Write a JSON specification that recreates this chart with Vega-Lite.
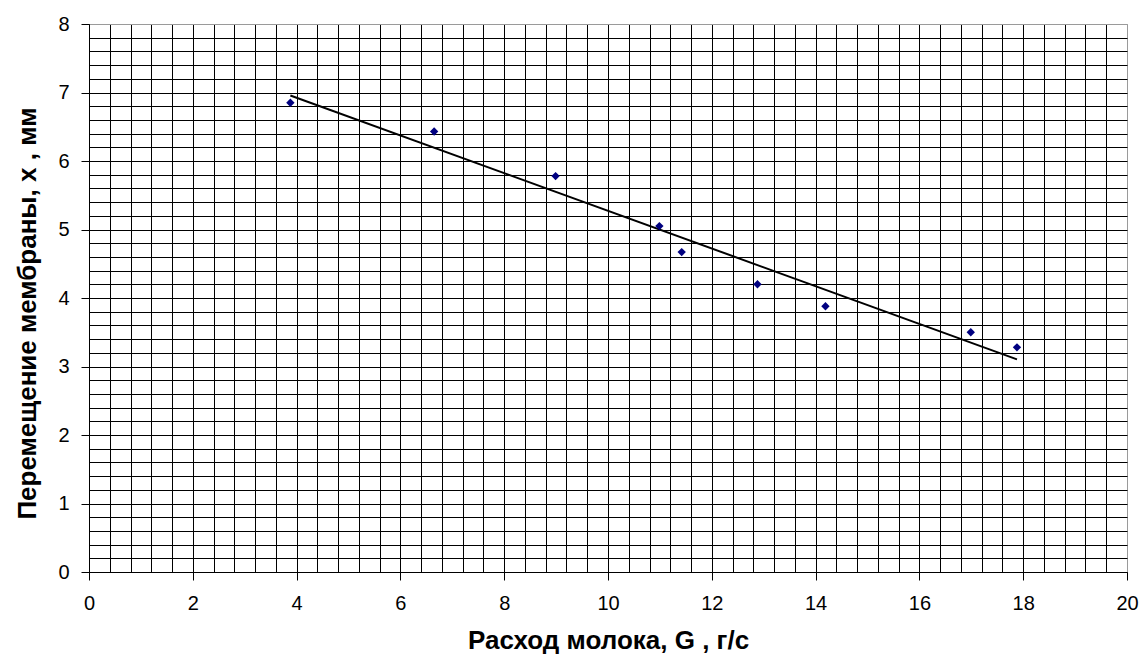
{
  "$schema": "https://vega.github.io/schema/vega-lite/v6.json",
  "width": 1038,
  "height": 548,
  "autosize": {"type": "none"},
  "padding": {"left": 89, "top": 24, "right": 13, "bottom": 87},
  "background": "white",
  "config": {
    "view": {"stroke": "#9a9a9a", "strokeWidth": 1},
    "font": "Liberation Sans"
  },
  "data": {
    "values": [
      {"G": 3.88, "x": 6.85},
      {"G": 6.65, "x": 6.43},
      {"G": 8.99, "x": 5.78},
      {"G": 10.99, "x": 5.05},
      {"G": 11.42, "x": 4.67},
      {"G": 12.88, "x": 4.2},
      {"G": 14.19, "x": 3.88},
      {"G": 16.99, "x": 3.5},
      {"G": 17.88, "x": 3.28}
    ]
  },
  "encoding": {
    "x": {
      "field": "G",
      "type": "quantitative",
      "scale": {"domain": [0, 20], "nice": false, "zero": false},
      "axis": {
        "title": "Расход молока, G , г/с",
        "titleFont": "Liberation Sans",
        "titleFontSize": 26,
        "titleFontWeight": "bold",
        "titleColor": "#000",
        "titlePadding": 14,
        "values": [0,0.4,0.8,1.2,1.6,2,2.4,2.8,3.2,3.6,4,4.4,4.8,5.2,5.6,6,6.4,6.8,7.2,7.6,8,8.4,8.8,9.2,9.6,10,10.4,10.8,11.2,11.6,12,12.4,12.8,13.2,13.6,14,14.4,14.8,15.2,15.6,16,16.4,16.8,17.2,17.6,18,18.4,18.8,19.2,19.6,20],
        "labelExpr": "datum.value % 2 === 0 ? format(datum.value, 'd') : ''",
        "labelFont": "Liberation Sans",
        "labelFontSize": 20,
        "labelColor": "#000",
        "labelPadding": 13,
        "labelFlush": false,
        "labelOverlap": false,
        "tickSize": 8,
        "tickColor": "#000",
        "tickOpacity": {"condition": {"test": "datum.value % 2 === 0", "value": 1}, "value": 0},
        "domainColor": "#000",
        "grid": true,
        "gridColor": {"condition": {"test": "datum.value === 20", "value": "#9a9a9a"}, "value": "#000"},
        "gridOpacity": 1,
        "gridWidth": 1
      }
    },
    "y": {
      "field": "x",
      "type": "quantitative",
      "scale": {"domain": [0, 8], "nice": false, "zero": false},
      "axis": {
        "title": "Перемещение мембраны, x , мм",
        "titleFont": "Liberation Sans",
        "titleFontSize": 26,
        "titleFontWeight": "bold",
        "titleColor": "#000",
        "titlePadding": 17,
        "titleY": 289,
        "values": [0,0.2,0.4,0.6,0.8,1,1.2,1.4,1.6,1.8,2,2.2,2.4,2.6,2.8,3,3.2,3.4,3.6,3.8,4,4.2,4.4,4.6,4.8,5,5.2,5.4,5.6,5.8,6,6.2,6.4,6.6,6.8,7,7.2,7.4,7.6,7.8,8],
        "labelExpr": "datum.value % 1 === 0 ? format(datum.value, 'd') : ''",
        "labelFont": "Liberation Sans",
        "labelFontSize": 20,
        "labelColor": "#000",
        "labelPadding": 12,
        "labelFlush": false,
        "labelOverlap": false,
        "tickSize": 8,
        "tickColor": "#000",
        "tickOpacity": {"condition": {"test": "datum.value % 1 === 0", "value": 1}, "value": 0},
        "domainColor": "#000",
        "grid": true,
        "gridColor": {"condition": {"test": "datum.value === 8", "value": "#9a9a9a"}, "value": "#000"},
        "gridOpacity": 1,
        "gridWidth": 1
      }
    }
  },
  "layer": [
    {
      "transform": [{"regression": "x", "on": "G", "method": "linear"}],
      "mark": {"type": "line", "color": "#000", "strokeWidth": 2}
    },
    {
      "mark": {"type": "point", "shape": "diamond", "filled": true, "color": "#000080", "size": 70, "opacity": 1}
    }
  ]
}
